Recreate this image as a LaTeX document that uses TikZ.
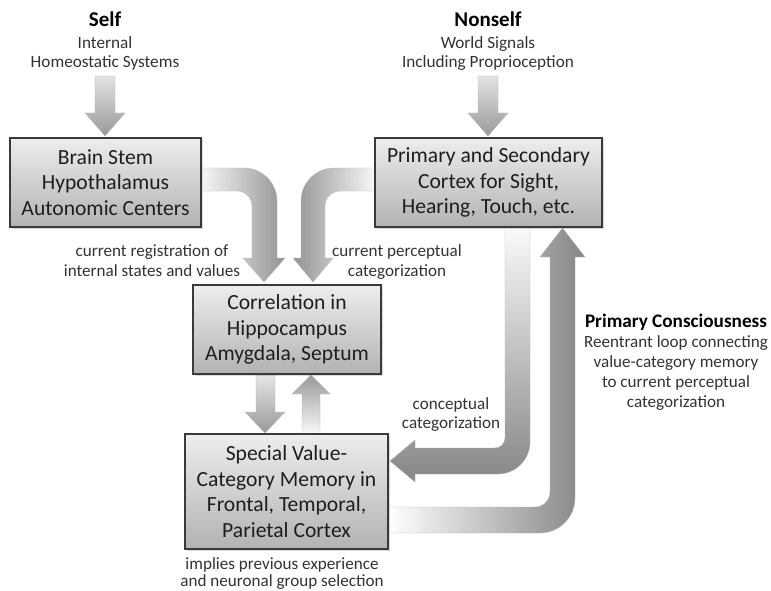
\documentclass[tikz,border=0pt]{standalone}
\usepackage{fontspec}
\setmainfont{Carlito}
\usetikzlibrary{shadows}
\pgfdeclarelayer{bg}
\pgfsetlayers{bg,main}
\definecolor{txt}{HTML}{1E1E1E}
\definecolor{subtxt}{HTML}{333333}
\definecolor{bord}{HTML}{3A3A3A}
\tikzset{
  box/.style={draw=bord, line width=1.1pt, top color=gray!14, bottom color=gray!60,
    align=center, text=txt, inner sep=0pt,
    font=\fontsize{21.6}{25.5}\selectfont,
    drop shadow={shadow xshift=1.5pt, shadow yshift=-1.5pt, opacity=0.3}},
  blk/.style={draw=gray!55, line width=0.4pt},
  ttl/.style={anchor=base, font=\fontsize{21}{24}\selectfont\bfseries, text=black},
  sub/.style={anchor=base, font=\fontsize{17.2}{20}\selectfont, text=subtxt},
  lbl/.style={anchor=base, font=\fontsize{17.1}{20}\selectfont, text=subtxt},
  pcttl/.style={anchor=base, font=\fontsize{19.2}{22}\selectfont\bfseries, text=black},
}
\begin{document}
\begin{tikzpicture}[x=1pt,y=-1pt]
\useasboundingbox (0,0) rectangle (771,591);

% boxes
\node[box, minimum width=191pt, minimum height=89pt] (bs) at (105.5,182.5)
  {Brain Stem\\Hypothalamus\\Autonomic Centers};
\node[box, minimum width=227pt, minimum height=89pt] (pc) at (488.5,182.5)
  {Primary and Secondary\\Cortex for Sight,\\Hearing, Touch, etc.};
\node[box, minimum width=188pt, minimum height=89pt] (co) at (287,329.5)
  {Correlation in\\Hippocampus\\Amygdala, Septum};
\node[box, minimum width=203pt, minimum height=115pt] (sv) at (286.5,491.5)
  {Special Value-\\Category Memory in\\Frontal, Temporal,\\Parietal Cortex};

% titles and labels
\node[ttl] (selft) at (105,27) {Self};
\node[sub] (selfa) at (105,49) {Internal};
\node[sub] (selfb) at (105,68) {Homeostatic Systems};
\node[ttl] (nst) at (488,27) {Nonself};
\node[sub] (nsa) at (488,49) {World Signals};
\node[sub] (nsb) at (488,68) {Including Proprioception};

\node[lbl] (rega) at (152,256) {current registration of};
\node[lbl] (regb) at (152,276) {internal states and values};
\node[lbl] (pera) at (397,256) {current perceptual};
\node[lbl] (perb) at (397,276) {categorization};
\node[lbl] (cona) at (451,409) {conceptual};
\node[lbl] (conb) at (451,428) {categorization};
\node[lbl] (impa) at (282,569) {implies previous experience};
\node[lbl] (impb) at (282,586) {and neuronal group selection};

\node[pcttl] (pct) at (676,327) {Primary Consciousness};
\node[lbl] (pca) at (676,347) {Reentrant loop connecting};
\node[lbl] (pcb) at (676,367) {value-category memory};
\node[lbl] (pcc) at (676,387) {to current perceptual};
\node[lbl] (pcd) at (676,407) {categorization};

\begin{pgfonlayer}{bg}
% Self -> Brain Stem
\path[blk, top color=gray!22, bottom color=gray!80]
  (95,76) -- (115,76) -- (115,113) -- (125,113) -- (105,136) -- (85,113) -- (95,113) -- cycle;
% Nonself -> Primary
\path[blk, top color=gray!22, bottom color=gray!80]
  (478,76) -- (498,76) -- (498,113) -- (508,113) -- (488,136) -- (468,113) -- (478,113) -- cycle;
% Brain Stem -> Correlation
\path[blk, left color=gray!6, right color=gray!85]
  (201,168) -- (244,168) .. controls (262.2,168) and (277,182.8) .. (277,201)
  -- (277,258) -- (285,258) -- (264,282) -- (243,258) -- (252,258) -- (252,206)
  .. controls (252,197.7) and (245.3,191) .. (237,191) -- (201,191) -- cycle;
% Primary -> Correlation
\path[blk, left color=gray!85, right color=gray!6]
  (375,168) -- (334,168) .. controls (315.8,168) and (301,182.8) .. (301,201)
  -- (301,258) -- (293,258) -- (313,282) -- (333,258) -- (325,258) -- (325,206)
  .. controls (325,197.7) and (331.7,191) .. (340,191) -- (375,191) -- cycle;
% Correlation -> Special
\path[blk, top color=gray!20, bottom color=gray!80]
  (256,375) -- (275,375) -- (275,412) -- (285,412) -- (265,433) -- (245,412) -- (256,412) -- cycle;
% Special -> Correlation
\path[blk, top color=gray!80, bottom color=gray!4]
  (302,434) -- (320,434) -- (320,394) -- (330,394) -- (311,375) -- (292,394) -- (302,394) -- cycle;
% conceptual categorization: Primary -> Special
\path[blk, top color=gray!4, bottom color=gray!95]
  (505,227) -- (530,227) -- (530,442) .. controls (530,459.7) and (515.7,474) .. (498,474)
  -- (415,474) -- (415,482) -- (390,461) -- (415,440) -- (415,448) -- (495,448)
  .. controls (500.5,448) and (505,443.5) .. (505,438) -- cycle;
% reentrant loop: Special -> Primary
\path[blk, left color=white, right color=gray!95]
  (388,507) -- (535,507) .. controls (543.3,507) and (550,500.3) .. (550,492)
  -- (550,257) -- (540,257) -- (562.5,228) -- (585,257) -- (575,257) -- (575,498)
  .. controls (575,517.3) and (559.3,533) .. (540,533) -- (388,533) -- cycle;
\end{pgfonlayer}
\end{tikzpicture}
\end{document}
